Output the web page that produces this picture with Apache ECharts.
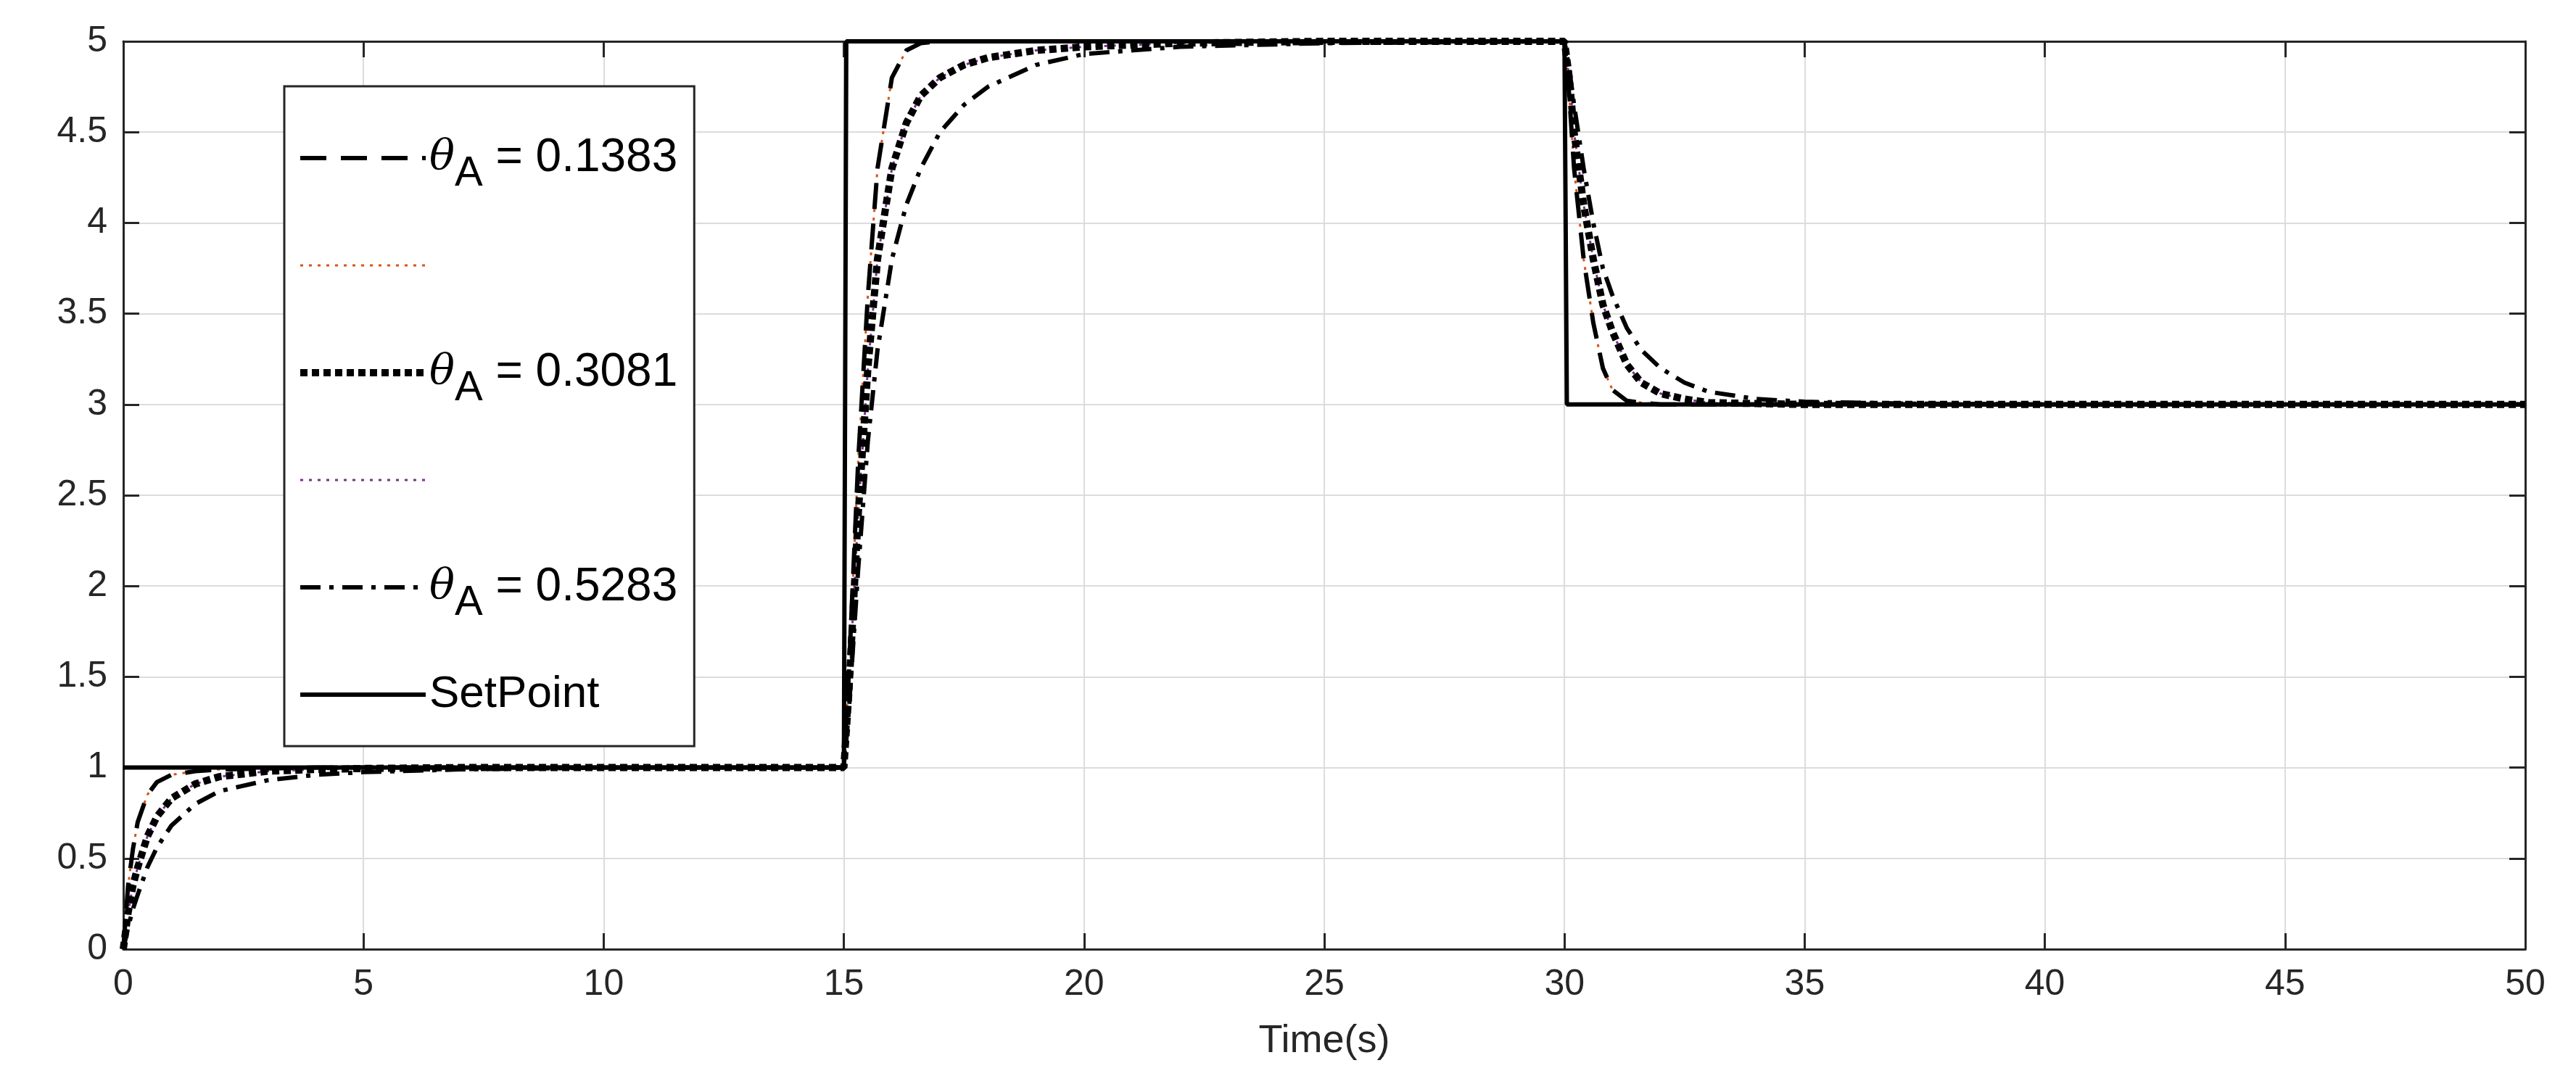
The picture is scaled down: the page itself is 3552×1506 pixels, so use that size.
<!DOCTYPE html>
<html><head><meta charset="utf-8">
<script src="https://cdn.jsdelivr.net/npm/echarts@6/dist/echarts.min.js"></script>
<style>html,body{margin:0;padding:0;background:#fff}#c{width:3552px;height:1506px}</style>
</head><body><div id="c"></div>
<script>
const seriesNames = ['θA = 0.1383', ' ', 'θA = 0.3081', '  ', 'θA = 0.5283', 'SetPoint'];
const t = [0,0.1,0.2,0.3,0.5,0.7,1,1.5,2,3,4,5,7,10,15,15.1,15.2,15.3,15.5,15.7,16,16.3,16.6,17,17.5,18,19,20,22,25,30,30.1,30.2,30.4,30.6,30.8,31,31.3,31.6,32,32.5,33,34,35,37,40,50];
const yFast = [0,0.35,0.55,0.7,0.85,0.92,0.96,0.98,0.99,0.995,1,1,1,1,1,1.5,2.1,2.7,3.6,4.3,4.8,4.95,4.99,5,5,5,5,5,5,5,5,4.7,4.3,3.8,3.45,3.2,3.08,3.02,3.01,3,3,3,3,3,3,3,3];
const yMid = [0,0.2,0.35,0.45,0.62,0.73,0.83,0.91,0.95,0.98,0.99,0.995,1,1,1,1.4,1.9,2.4,3.2,3.8,4.3,4.55,4.7,4.8,4.87,4.91,4.95,4.97,4.99,5,5,4.8,4.5,4.1,3.8,3.55,3.4,3.22,3.12,3.06,3.03,3.01,3.005,3,3,3,3];
const ySlow = [0,0.12,0.22,0.3,0.45,0.56,0.68,0.8,0.87,0.93,0.96,0.975,0.99,1,1,1.3,1.7,2.1,2.8,3.3,3.8,4.1,4.3,4.5,4.65,4.75,4.87,4.93,4.97,4.99,5,4.85,4.65,4.3,4.0,3.75,3.6,3.42,3.3,3.2,3.12,3.07,3.03,3.015,3.005,3,3];
const tSet = [0,15,15.05,30,30.05,50];
const ySet = [1,1,5,5,3,3];
const xTicks = [0,5,10,15,20,25,30,35,40,45,50];
const yTicks = [0,0.5,1,1.5,2,2.5,3,3.5,4,4.5,5];

const pair = (xs, ys) => xs.map((x,i)=>[x, ys[i]]);
const FONT = 'Liberation Sans, Arial, sans-serif';
const grid = {left:170, right:70, top:57, bottom:197};
const styles = [
  {color:'#000', width:6, type:[36,20], z:3},
  {color:'#D95319', width:3, type:[4,8], z:1},
  {color:'#000', width:10, type:[10,6], z:3},
  {color:'#7E2F8E', width:3, type:[4,8], z:1},
  {color:'#000', width:6, type:[28,12,6,12], z:3},
  {color:'#000', width:6, type:'solid', z:4}
];
const dataFor = [pair(t,yFast), pair(t,yFast), pair(t,yMid), pair(t,yMid), pair(t,ySlow), pair(tSet,ySet)];
const series = seriesNames.map((name,i)=>({
  name, type:'line', data:dataFor[i], symbol:'none', showSymbol:false, z:styles[i].z, animation:false,
  lineStyle:{color:styles[i].color, width:styles[i].width, type:styles[i].type},
  itemStyle:{color:styles[i].color}
}));
const axisCommon = {
  axisLine:{show:true, onZero:false, lineStyle:{color:'#262626', width:3}},
  axisTick:{show:true, inside:true, length:22, lineStyle:{color:'#262626', width:3}},
};
const chart = echarts.init(document.getElementById('c'));
chart.setOption({
  backgroundColor:'#fff',
  animation:false,
  grid,
  legend:{
    data: seriesNames.map((name,i)=>({name, itemStyle:{opacity:0},
      lineStyle:{color:styles[i].color, width:styles[i].width, type:styles[i].type}})),
    orient:'vertical', left:392, top:119,
    backgroundColor:'#fff', borderColor:'#262626', borderWidth:3,
    padding:[48,23,31,17], itemGap:57, itemWidth:173, itemHeight:40,
    textStyle:{fontFamily:FONT, fontSize:62, color:'#000', lineHeight:80,
      rich:{
        th:{fontFamily:'DejaVu Serif, serif', fontStyle:'italic', fontSize:58, color:'#000', lineHeight:80},
        sub:{fontFamily:FONT, fontSize:58, color:'#000', lineHeight:80, padding:[44,0,0,0]},
        n:{fontFamily:FONT, fontSize:64, color:'#000', lineHeight:80}
      }},
    formatter: name => name.startsWith('θA') ? '{th|θ}{sub|A}{n|' + name.slice(2) + '}' : name
  },
  xAxis:[{type:'value', min:0, max:50, interval:5, position:'bottom',
      name:'Time(s)', nameLocation:'middle', nameGap:100,
      nameTextStyle:{fontFamily:FONT, fontSize:54, color:'#262626'},
      axisLabel:{fontFamily:FONT, fontSize:50, color:'#262626', margin:24},
      splitLine:{show:true, lineStyle:{color:'#dcdcdc', width:2}}, ...axisCommon},
    {type:'value', min:0, max:50, interval:5, position:'top', axisLabel:{show:false}, splitLine:{show:false}, ...axisCommon}],
  yAxis:[{type:'value', min:0, max:5, interval:0.5, position:'left',
      axisLabel:{fontFamily:FONT, fontSize:50, color:'#262626', margin:22},
      splitLine:{show:true, lineStyle:{color:'#dcdcdc', width:2}}, ...axisCommon},
    {type:'value', min:0, max:5, interval:0.5, position:'right', axisLabel:{show:false}, splitLine:{show:false}, ...axisCommon}],
  series
});
</script></body></html>
